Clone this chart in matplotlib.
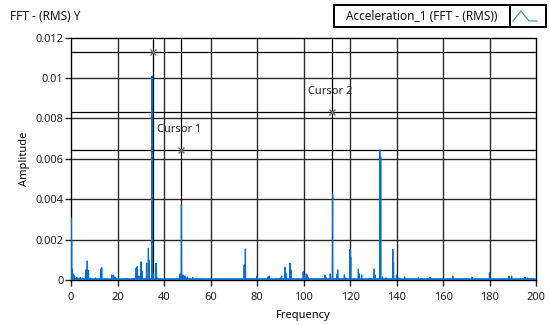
import numpy as np
import matplotlib
matplotlib.use("Agg")
import matplotlib.pyplot as plt
from matplotlib.patches import Rectangle
from matplotlib.lines import Line2D

plt.rcParams["font.family"] = ["Noto Sans", "DejaVu Sans"]

# Pics du spectre (frequence, amplitude)
peak_freq = [0.0, 0.25, 0.5, 1.0, 1.5, 2.5, 4.0, 5.0, 6.3, 7.0, 7.5, 8.5, 10.5,
             12.8, 13.2, 17.5, 18.3, 19.0, 24.0, 26.8, 28.0, 28.5, 29.2, 30.1,
             30.6, 32.5, 33.3, 33.6, 34.9, 35.4, 36.4, 36.7, 37.3, 38.5, 46.9,
             47.5, 48.2, 49.0, 50.0, 52.3, 55.5, 56.0, 74.5, 75.0, 76.6, 79.9,
             84.8, 85.2, 88.5, 90.0, 90.6, 92.0, 92.4, 94.2, 94.6, 99.9, 100.2,
             101.2, 101.6, 102.0, 103.8, 109.2, 109.6, 111.5, 112.5, 114.5,
             114.7, 117.6, 118.2, 120.0, 120.3, 123.6, 124.0, 125.0, 128.5,
             130.4, 130.7, 132.8, 133.2, 134.0, 135.5, 138.4, 138.7, 140.0,
             141.0, 143.5, 149.4, 151.0, 154.4, 157.0, 164.2, 168.0, 170.0,
             172.5, 180.0, 186.0, 188.4, 189.5, 195.3, 196.5, 198.0]
peak_amp = [0.00305, 0.0020, 0.00053, 0.0003, 0.0002, 0.00012, 0.00012, 0.0001,
            0.0005, 0.00094, 0.00046, 0.0001, 0.0001, 0.00055, 0.00061, 0.00025,
            0.00025, 0.00015, 0.00008, 0.00008, 0.00058, 0.00066, 0.0002, 0.0009,
            0.00041, 0.00083, 0.00157, 0.00096, 0.0101, 0.0003, 0.00079, 0.00083,
            0.0001, 0.00005, 0.0003, 0.00371, 0.00025, 0.0002, 0.00015, 0.00013,
            0.00005, 0.00005, 0.00074, 0.00153, 0.00005, 0.0002, 0.00015, 0.0002,
            0.00008, 0.0001, 0.0002, 0.00063, 0.00033, 0.00083, 0.0005, 0.00041,
            0.00025, 0.0003, 0.00025, 0.00013, 0.00005, 0.00025, 0.00013, 0.0003,
            0.00424, 0.0003, 0.0005, 0.00025, 0.0001, 0.00152, 0.00115, 0.00054,
            0.0003, 0.00025, 0.0001, 0.00054, 0.00025, 0.00643, 0.0061, 0.00015,
            0.0001, 0.00152, 0.00083, 0.00025, 0.0001, 0.00015, 0.00011, 0.00008,
            0.00013, 0.00005, 0.0002, 0.00005, 0.00008, 0.00013, 0.00036, 0.00005,
            0.0002, 0.0002, 0.00013, 0.0001, 0.00008]

# Curseurs (x, y, nom)
cursor_x = [35.15, 47.3, 112.1]
cursor_y = [0.01129, 0.00643, 0.00829]
cursor_names = ["", "Cursor 1", "Cursor 2"]
cursor_label_pos = [(None, None), (46.5, 0.00746), (111.5, 0.00932)]

x_ticks = [0, 20, 40, 60, 80, 100, 120, 140, 160, 180, 200]
y_ticks = [0, 0.002, 0.004, 0.006, 0.008, 0.01, 0.012]
y_tick_labels = ["0", "0.002", "0.004", "0.006", "0.008", "0.01", "0.012"]

# Trace : chaque pic monte depuis la ligne de base
xs, ys = [0.0], [0.0]
for f, a in zip(peak_freq, peak_amp):
    xs += [max(f - 0.1, 0), f, f + 0.1]
    ys += [0.00003, a, 0.00003]
xs.append(200)
ys.append(0.00003)

fig = plt.figure(figsize=(5.49, 3.24), dpi=100)
ax = fig.add_axes([71 / 549, 1 - 280 / 324, 465 / 549, 242.5 / 324])

grid_col = "#2a2a2a"
for t in x_ticks[1:-1]:
    ax.axvline(t, color=grid_col, lw=1.0, zorder=1)
for t in y_ticks[1:-1]:
    ax.axhline(t, color=grid_col, lw=1.0, zorder=1)
for cx, cy in zip(cursor_x, cursor_y):
    ax.axvline(cx, color="black", lw=0.9, zorder=1)
    ax.axhline(cy, color="black", lw=0.9, zorder=1)

ax.plot(xs, ys, color="#0a6cd0", lw=0.9, zorder=3)
ax.axhline(0.00003, color="#0a6cd0", lw=1.8, zorder=3)

ax.plot(cursor_x, cursor_y, ls="none", marker="x", ms=4, mew=1.0,
        color="#6a6a6a", zorder=4)
for name, (tx, ty) in zip(cursor_names, cursor_label_pos):
    if name:
        ax.text(tx, ty, name, ha="center", va="center", fontsize=8,
                color="#222222", zorder=5)

ax.set_xlim(0, 200)
ax.set_ylim(0, 0.012)
ax.set_xticks(x_ticks)
ax.set_yticks(y_ticks)
ax.set_yticklabels(y_tick_labels)
ax.tick_params(direction="out", length=4, width=1, labelsize=8, pad=1.5,
               colors="#222222")
ax.tick_params(axis="x", pad=4.5)
for s in ax.spines.values():
    s.set_color("black")
    s.set_linewidth(1.0)

ax.set_xlabel("Frequency", fontsize=8, labelpad=5)
ax.set_ylabel("Amplitude", fontsize=8, labelpad=4)

fig.text(10 / 549, 1 - 17 / 324, "FFT - (RMS) Y", fontsize=8.5, va="center",
         ha="left", color="#111111")

# Legende facon LabVIEW
fig.add_artist(Rectangle((334 / 549, 1 - 27 / 324), 176 / 549, 22 / 324,
                         transform=fig.transFigure, fill=False, ec="black", lw=1.4))
fig.add_artist(Rectangle((510 / 549, 1 - 27 / 324), 36 / 549, 22 / 324,
                         transform=fig.transFigure, fill=False, ec="black", lw=1.4))
fig.text(422 / 549, 1 - 16 / 324, "Acceleration_1 (FFT - (RMS))", fontsize=8.5,
         ha="center", va="center", color="#111111")
fig.add_artist(Line2D(np.array([513, 521, 529, 537]) / 549,
                      1 - np.array([21, 11, 21, 21]) / 324,
                      transform=fig.transFigure, color="#4a8fd8", lw=0.9))

fig.savefig("out.png", dpi=100)
